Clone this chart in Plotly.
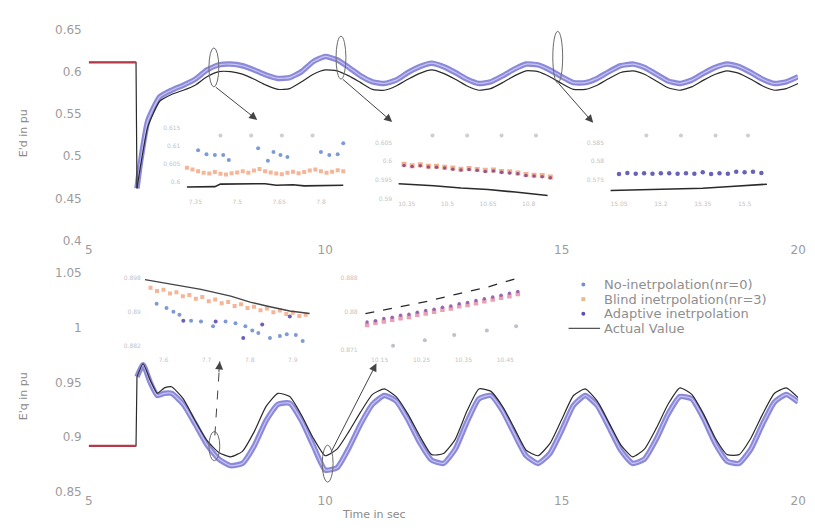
import plotly.graph_objects as go

W, H = 815, 532

# ---------------- main plot data ----------------
top_t = [5.0, 6.0, 6.02, 6.1, 6.25, 6.5, 6.75, 7.0, 7.25, 7.5, 7.75, 8.0, 8.25, 8.5, 8.75, 9.0,
         9.25, 9.5, 9.75, 10.0, 10.25, 10.5, 10.75, 11.0, 11.25, 11.5, 11.75, 12.0, 12.25, 12.5,
         12.75, 13.0, 13.25, 13.5, 13.75, 14.0, 14.25, 14.5, 14.75, 15.0, 15.25, 15.5, 15.75,
         16.0, 16.25, 16.5, 16.75, 17.0, 17.25, 17.5, 17.75, 18.0, 18.25, 18.5, 18.75, 19.0,
         19.25, 19.5, 19.75, 20.0]
top_actual = [0.611, 0.611, 0.462, 0.490, 0.535, 0.565, 0.573, 0.578, 0.584, 0.594, 0.600, 0.600,
              0.597, 0.591, 0.584, 0.579, 0.580, 0.588, 0.597, 0.602, 0.601, 0.595, 0.587, 0.579,
              0.578, 0.583, 0.591, 0.598, 0.602, 0.598, 0.591, 0.583, 0.578, 0.580, 0.587, 0.595,
              0.601, 0.600, 0.594, 0.586, 0.579, 0.579, 0.584, 0.592, 0.599, 0.601, 0.597, 0.589,
              0.581, 0.578, 0.582, 0.590, 0.597, 0.601, 0.598, 0.591, 0.583, 0.578, 0.580, 0.586]
top_adaptive = [0.611, 0.611, 0.462, 0.495, 0.542, 0.570, 0.578, 0.584, 0.591, 0.602, 0.608, 0.609,
                0.607, 0.602, 0.596, 0.592, 0.593, 0.600, 0.612, 0.618, 0.614, 0.605, 0.595, 0.588,
                0.586, 0.590, 0.599, 0.606, 0.610, 0.606, 0.599, 0.591, 0.586, 0.588, 0.595, 0.603,
                0.609, 0.608, 0.602, 0.594, 0.587, 0.587, 0.592, 0.600, 0.607, 0.609, 0.605, 0.597,
                0.589, 0.586, 0.590, 0.598, 0.605, 0.609, 0.606, 0.599, 0.591, 0.586, 0.588, 0.594]

bot_t = [5.0, 6.0, 6.02, 6.15, 6.3, 6.45, 6.6, 6.75, 7.0, 7.25, 7.5, 7.75, 8.0, 8.25, 8.5, 8.75,
         9.0, 9.25, 9.5, 9.75, 10.0, 10.25, 10.5, 10.75, 11.0, 11.25, 11.5, 11.75, 12.0, 12.25,
         12.5, 12.75, 13.0, 13.25, 13.5, 13.75, 14.0, 14.25, 14.5, 14.75, 15.0, 15.25, 15.5,
         15.75, 16.0, 16.25, 16.5, 16.75, 17.0, 17.25, 17.5, 17.75, 18.0, 18.25, 18.5, 18.75,
         19.0, 19.25, 19.5, 19.75, 20.0]
bot_actual = [0.892, 0.892, 0.955, 0.967, 0.952, 0.940, 0.945, 0.946, 0.935, 0.915, 0.897, 0.886,
              0.882, 0.887, 0.905, 0.928, 0.940, 0.937, 0.920, 0.899, 0.883, 0.889, 0.905, 0.923,
              0.939, 0.944, 0.937, 0.921, 0.901, 0.884, 0.885, 0.898, 0.924, 0.944, 0.942, 0.928,
              0.908, 0.888, 0.883, 0.894, 0.916, 0.938, 0.944, 0.933, 0.913, 0.893, 0.882, 0.889,
              0.908, 0.930, 0.945, 0.939, 0.921, 0.899, 0.884, 0.884, 0.899, 0.921, 0.940, 0.945,
              0.936]
bot_adaptive = [0.892, 0.892, 0.955, 0.966, 0.950, 0.938, 0.940, 0.940, 0.930, 0.912, 0.893, 0.880,
                0.874, 0.876, 0.892, 0.915, 0.930, 0.931, 0.915, 0.892, 0.870, 0.872, 0.890, 0.912,
                0.930, 0.938, 0.933, 0.916, 0.895, 0.879, 0.876, 0.889, 0.914, 0.935, 0.938, 0.924,
                0.903, 0.883, 0.876, 0.885, 0.906, 0.929, 0.938, 0.929, 0.909, 0.888, 0.876, 0.880,
                0.898, 0.921, 0.937, 0.935, 0.917, 0.894, 0.878, 0.876, 0.889, 0.912, 0.932, 0.939,
                0.932]

# ---------------- inset data ----------------
t1_noint_x = [7.36, 7.39, 7.42, 7.45, 7.47, 7.575, 7.61, 7.63, 7.655, 7.68, 7.80, 7.83, 7.86, 7.88]
t1_noint_y = [0.6088, 0.6077, 0.6075, 0.6075, 0.6061, 0.6093, 0.6059, 0.6083, 0.6075, 0.6069,
              0.6083, 0.6075, 0.6077, 0.6107]
t1_out_x = [7.44, 7.55, 7.66, 7.77]
t1_out_y = [0.6128, 0.6128, 0.6128, 0.6128]
t1_blind_x = [7.32, 7.34, 7.36, 7.38, 7.40, 7.42, 7.44, 7.46, 7.48, 7.50, 7.52, 7.54, 7.56, 7.58,
              7.60, 7.62, 7.64, 7.66, 7.68, 7.70, 7.72, 7.74, 7.76, 7.78, 7.80, 7.82, 7.84, 7.86, 7.88]
t1_blind_y = [0.6040, 0.6035, 0.6030, 0.6026, 0.6024, 0.6028, 0.6023, 0.6021, 0.6025, 0.6027,
              0.6030, 0.6026, 0.6032, 0.6036, 0.6030, 0.6027, 0.6024, 0.6022, 0.6026, 0.6029,
              0.6025, 0.6028, 0.6032, 0.6035, 0.6030, 0.6026, 0.6029, 0.6033, 0.6030]
t1_act_x = [7.32, 7.42, 7.44, 7.60, 7.64, 7.70, 7.74, 7.88]
t1_act_y = [0.5987, 0.5988, 0.5995, 0.5996, 0.5992, 0.5993, 0.5990, 0.5992]

t2_out_x = [10.445, 10.573, 10.70, 10.827]
t2_out_y = [0.6069, 0.6069, 0.6069, 0.6069]
t2_est_x = [10.34, 10.37, 10.40, 10.43, 10.46, 10.49, 10.52, 10.55, 10.58, 10.61, 10.64, 10.67,
            10.70, 10.73, 10.76, 10.79, 10.82, 10.85, 10.88]
t2_blind_y = [0.5992, 0.5988, 0.5991, 0.5987, 0.5987, 0.5984, 0.5982, 0.5979, 0.5981, 0.5978,
              0.5976, 0.5977, 0.5973, 0.5972, 0.5969, 0.5965, 0.5963, 0.5962, 0.5958]
t2_adapt_y = [0.5989, 0.5986, 0.5988, 0.5985, 0.5984, 0.5982, 0.5979, 0.5977, 0.5978, 0.5976,
              0.5973, 0.5974, 0.5971, 0.5969, 0.5967, 0.5962, 0.5961, 0.5959, 0.5956]
t2_act_x = [10.32, 10.45, 10.55, 10.65, 10.75, 10.87]
t2_act_y = [0.5940, 0.5935, 0.5929, 0.5925, 0.5918, 0.5909]

t3_out_x = [15.148, 15.272, 15.396, 15.512]
t3_out_y = [0.5869, 0.5869, 0.5869, 0.5869]
t3_adapt_x = [15.05, 15.08, 15.11, 15.14, 15.17, 15.20, 15.23, 15.26, 15.29, 15.32, 15.35, 15.38,
              15.41, 15.44, 15.47, 15.50, 15.53, 15.56]
t3_adapt_y = [0.5766, 0.5769, 0.5767, 0.5768, 0.5767, 0.5768, 0.5768, 0.5767, 0.5768, 0.5767,
              0.5771, 0.5766, 0.5768, 0.5767, 0.5772, 0.5771, 0.5772, 0.5769]
t3_act_x = [15.02, 15.20, 15.35, 15.45, 15.55, 15.58]
t3_act_y = [0.5722, 0.5725, 0.5728, 0.5733, 0.5738, 0.5739]

ba_act_x = [7.557, 7.619, 7.687, 7.756, 7.801, 7.847, 7.893, 7.939]
ba_act_y = [0.8977, 0.8966, 0.8954, 0.8938, 0.8924, 0.8913, 0.8903, 0.8897]
ba_blind_x = [7.57, 7.585, 7.60, 7.615, 7.63, 7.645, 7.66, 7.675, 7.69, 7.705, 7.72, 7.735, 7.75,
              7.765, 7.78, 7.795, 7.81, 7.825, 7.84, 7.855, 7.87, 7.885, 7.90, 7.915, 7.93]
ba_blind_y = [0.8958, 0.8950, 0.8953, 0.8944, 0.8947, 0.8938, 0.8941, 0.8932, 0.8936, 0.8926,
              0.8930, 0.8921, 0.8924, 0.8915, 0.8919, 0.8910, 0.8913, 0.8905, 0.8909, 0.8900,
              0.8904, 0.8896, 0.8899, 0.8891, 0.8894]
ba_noint_x = [7.584, 7.607, 7.623, 7.637, 7.664, 7.687, 7.715, 7.744, 7.767, 7.790, 7.806, 7.820,
              7.847, 7.870, 7.886, 7.907, 7.923]
ba_noint_y = [0.8920, 0.8910, 0.8901, 0.8894, 0.8880, 0.8878, 0.8867, 0.8878, 0.8874, 0.8867,
              0.8857, 0.8851, 0.8839, 0.8844, 0.8848, 0.8846, 0.8832]
ba_adapt_x = [7.646, 7.721, 7.785, 7.829, 7.893]
ba_adapt_y = [0.8880, 0.8878, 0.8839, 0.8871, 0.8890]

bb_act_x = [10.116, 10.194, 10.265, 10.335, 10.406, 10.484]
bb_act_y = [0.8797, 0.8813, 0.8826, 0.8843, 0.8859, 0.8882]
bb_est_x = [10.12, 10.14, 10.16, 10.18, 10.20, 10.22, 10.24, 10.26, 10.28, 10.30, 10.32, 10.34,
            10.36, 10.38, 10.40, 10.42, 10.44, 10.46, 10.48]
bb_blind_y = [0.8770, 0.8775, 0.8778, 0.8782, 0.8786, 0.8789, 0.8794, 0.8797, 0.8801, 0.8806,
              0.8809, 0.8814, 0.8817, 0.8821, 0.8826, 0.8830, 0.8834, 0.8838, 0.8843]
bb_adapt_y = [0.8777, 0.8780, 0.8785, 0.8788, 0.8793, 0.8795, 0.8800, 0.8804, 0.8807, 0.8812,
              0.8815, 0.8820, 0.8823, 0.8828, 0.8832, 0.8836, 0.8840, 0.8845, 0.8849]
bb_noint_x = [10.182, 10.258, 10.328, 10.406, 10.476]
bb_noint_y = [0.8721, 0.8734, 0.8746, 0.8757, 0.8767]

legend_names = ["No-inetrpolation(nr=0)", "Blind inetrpolation(nr=3)",
                "Adaptive inetrpolation", "Actual Value"]

# ---------------- styles ----------------
C_NOINT = "#6f8fcf"
C_BLIND = "#f2a27e"
C_ADAPT = "#5a4fb0"
C_ACT = "#2a2a2a"
C_BAND = "rgba(95,92,205,0.72)"
C_BAND_IN = "rgba(205,205,245,0.9)"
C_PRE = "#b23a4a"
FONT = "DejaVu Sans, Liberation Sans, sans-serif"


def px_x(px):
    return px / W


def px_y(py):
    return 1 - py / H


fig = go.Figure()


def main_curves(t, act, est, ax):
    fig.add_trace(go.Scatter(x=t[2:], y=est[2:], mode="lines", xaxis="x" + ax, yaxis="y" + ax,
                             line=dict(color=C_BAND, width=5.5, shape="spline", smoothing=0.5),
                             showlegend=False, hoverinfo="skip"))
    fig.add_trace(go.Scatter(x=t[2:], y=est[2:], mode="lines", xaxis="x" + ax, yaxis="y" + ax,
                             line=dict(color=C_BAND_IN, width=1.2, shape="spline", smoothing=0.5),
                             showlegend=False, hoverinfo="skip"))
    fig.add_trace(go.Scatter(x=t[:3], y=act[:3], mode="lines", xaxis="x" + ax, yaxis="y" + ax,
                             line=dict(color=C_ACT, width=1.2), showlegend=False))
    fig.add_trace(go.Scatter(x=t[2:], y=act[2:], mode="lines", xaxis="x" + ax, yaxis="y" + ax,
                             line=dict(color=C_ACT, width=1.2, shape="spline", smoothing=0.5),
                             showlegend=False))
    fig.add_trace(go.Scatter(x=t[:2], y=est[:2], mode="lines", xaxis="x" + ax, yaxis="y" + ax,
                             line=dict(color=C_PRE, width=2.2), showlegend=False))


main_curves(top_t, top_actual, top_adaptive, "")
main_curves(bot_t, bot_actual, bot_adaptive, "2")


def mk(x, y, ax, color, size=4, symbol="circle", name=None, opacity=0.9):
    fig.add_trace(go.Scatter(x=x, y=y, mode="markers", xaxis="x" + ax, yaxis="y" + ax,
                             marker=dict(color=color, size=size, symbol=symbol, opacity=opacity),
                             name=name, showlegend=False))


def ln(x, y, ax, color=C_ACT, width=1.3, dash="solid", name=None):
    fig.add_trace(go.Scatter(x=x, y=y, mode="lines", xaxis="x" + ax, yaxis="y" + ax,
                             line=dict(color=color, width=width, dash=dash),
                             name=name, showlegend=False))


mk(ba_noint_x, ba_noint_y, "6", C_NOINT, name=legend_names[0])
mk(ba_blind_x, ba_blind_y, "6", C_BLIND, symbol="square", name=legend_names[1], opacity=0.8)
mk(ba_adapt_x, ba_adapt_y, "6", C_ADAPT, name=legend_names[2])
ln(ba_act_x, ba_act_y, "6", color="#444444", width=1.4, name=legend_names[3])

mk(t1_out_x, t1_out_y, "3", "#c9c9c9")
mk(t1_blind_x, t1_blind_y, "3", C_BLIND, symbol="square", opacity=0.8)
mk(t1_noint_x, t1_noint_y, "3", C_NOINT)
ln(t1_act_x, t1_act_y, "3", width=1.6)

mk(t2_out_x, t2_out_y, "4", "#c9c9c9")
ln(t2_act_x, t2_act_y, "4", width=1.6)
mk(t2_est_x, t2_blind_y, "4", C_BLIND, symbol="square", size=5, opacity=0.85)
mk(t2_est_x, t2_adapt_y, "4", "#8a4a8a", size=3.5)

mk(t3_out_x, t3_out_y, "5", "#c9c9c9")
ln(t3_act_x, t3_act_y, "5", width=1.6)
mk(t3_adapt_x, t3_adapt_y, "5", C_ADAPT, size=4.5)

mk(bb_noint_x, bb_noint_y, "7", "#b8b8c8")
ln(bb_act_x, bb_act_y, "7", width=1.3, dash="dash")
mk(bb_est_x, bb_blind_y, "7", "#e890a8", symbol="square", size=4.5, opacity=0.85)
mk(bb_est_x, bb_adapt_y, "7", "#8a5aa8", size=3.5)

# ---------------- axes ----------------
TICKF = dict(family=FONT, size=12, color="#9c9c9c")
INF = dict(family=FONT, size=6, color="#c4c4c4")
base = dict(showgrid=False, zeroline=False, showline=False, ticks="", tickfont=TICKF)

layout = dict(
    width=W, height=H, margin=dict(l=0, r=0, t=0, b=0),
    paper_bgcolor="white", plot_bgcolor="white", showlegend=False,
    xaxis=dict(base, domain=[px_x(86), px_x(806)], range=[5, 20], anchor="y",
               tickvals=[5, 10, 15, 20]),
    yaxis=dict(base, domain=[px_y(240), px_y(23)], range=[0.4, 0.65], anchor="x",
               tickvals=[0.4, 0.45, 0.5, 0.55, 0.6, 0.65], ticklabelstandoff=6,
               ticktext=["0.4", "0.45", "0.5", "0.55", "0.6", "0.65"]),
    xaxis2=dict(base, domain=[px_x(86), px_x(806)], range=[5, 20], anchor="y2",
                tickvals=[5, 10, 15, 20]),
    yaxis2=dict(base, domain=[px_y(498), px_y(273)], range=[0.85, 1.05], anchor="x2",
                tickvals=[0.85, 0.9, 0.95, 1.0, 1.05], ticklabelstandoff=6,
                ticktext=["0.85", "0.9", "0.95", "1", "1.05"]),
)


def inset(n, x0, x1, y0, y1, xr, yr, xt, yt):
    layout["xaxis%d" % n] = dict(showgrid=False, zeroline=False, showline=False, ticks="",
                                 domain=[px_x(x0), px_x(x1)], range=xr, anchor="y%d" % n,
                                 tickvals=xt, tickfont=INF)
    layout["yaxis%d" % n] = dict(showgrid=False, zeroline=False, showline=False, ticks="",
                                 domain=[px_y(y1), px_y(y0)], range=yr, anchor="x%d" % n,
                                 tickvals=yt, tickfont=INF)


inset(3, 180, 350, 120, 195, [7.30, 7.90], [0.596, 0.616],
      [7.35, 7.5, 7.65, 7.8], [0.6, 0.605, 0.61, 0.615])
inset(4, 395, 560, 120, 197, [10.30, 10.90], [0.590, 0.610],
      [10.35, 10.5, 10.65, 10.8], [0.59, 0.595, 0.6, 0.605])
inset(5, 610, 780, 120, 197, [15.0, 15.6], [0.570, 0.590],
      [15.05, 15.2, 15.35, 15.5], [0.575, 0.58, 0.585])
inset(6, 140, 315, 270, 357, [7.55, 7.95], [0.880, 0.900],
      [7.6, 7.7, 7.8, 7.9], [0.882, 0.89, 0.898])
inset(7, 360, 530, 270, 357, [10.10, 10.50], [0.870, 0.890],
      [10.15, 10.25, 10.35, 10.45], [0.871, 0.88, 0.888])

fig.update_layout(**layout)

# ---------------- manual legend ----------------
LEGF = dict(family=FONT, size=13, color="#8e8e8e")
leg_y = [285, 300, 315, 330]
leg_mark = [("circle", C_NOINT), ("rect", "#e8b890"), ("circle", C_ADAPT)]
for i, (shp, col) in enumerate(leg_mark):
    cy = leg_y[i]
    fig.add_shape(type=shp, xref="paper", yref="paper",
                  x0=px_x(586), x1=px_x(590), y0=px_y(cy + 2), y1=px_y(cy - 2),
                  line=dict(width=0), fillcolor=col)
fig.add_shape(type="line", xref="paper", yref="paper", x0=px_x(573), x1=px_x(605),
              y0=px_y(leg_y[3]), y1=px_y(leg_y[3]), line=dict(color="#555", width=1.2))
for i, name in enumerate(legend_names):
    fig.add_annotation(xref="paper", yref="paper", x=px_x(607), y=px_y(leg_y[i]),
                       xanchor="left", yanchor="middle", text=name, showarrow=False, font=LEGF)

# ---------------- ellipses, arrows, titles ----------------
ellipses = [(208, 218, 42, 82), (337, 347, 30, 74), (557, 567, 25, 78),
            (208, 219, 436, 466), (323, 334, 450, 488)]
for (a, b, c, d) in ellipses:
    fig.add_shape(type="circle", xref="paper", yref="paper",
                  x0=px_x(a), x1=px_x(b), y0=px_y(d), y1=px_y(c),
                  line=dict(color="#6a6a6a", width=1))

solid_arrows = [((214, 82), (257, 116)), ((343, 74), (394, 118)), ((562, 78), (598, 119)),
                ((332, 456), (378, 366))]
for (tail, head) in solid_arrows:
    fig.add_annotation(xref="paper", yref="paper", x=px_x(head[0]), y=px_y(head[1]),
                       ax=tail[0] - head[0], ay=tail[1] - head[1], showarrow=True,
                       arrowhead=2, arrowsize=1.6, arrowwidth=1, arrowcolor="#444", text="")

tail, head = (214, 440), (219, 364)
fig.add_shape(type="line", xref="paper", yref="paper", x0=px_x(tail[0]), y0=px_y(tail[1]),
              x1=px_x(head[0]), y1=px_y(head[1]), line=dict(color="#444", width=1, dash="dash"))
fig.add_annotation(xref="paper", yref="paper", x=px_x(head[0]), y=px_y(head[1]),
                   ax=-1, ay=12, showarrow=True, arrowhead=2, arrowsize=1.6, arrowwidth=1,
                   arrowcolor="#444", text="")

TITLEF = dict(family=FONT, size=11, color="#8a8a8a")
fig.add_annotation(xref="paper", yref="paper", x=px_x(20), y=px_y(130), text="E'd in pu",
                   xanchor="center", yanchor="middle",
                   textangle=-90, showarrow=False, font=TITLEF)
fig.add_annotation(xref="paper", yref="paper", x=px_x(20), y=px_y(400), text="E'q in pu",
                   xanchor="center", yanchor="middle",
                   textangle=-90, showarrow=False, font=TITLEF)
fig.add_annotation(xref="paper", yref="paper", x=px_x(376), y=px_y(521), text="Time in sec",
                   xanchor="center", yanchor="middle", showarrow=False, font=TITLEF)

fig.write_html("out.html")
